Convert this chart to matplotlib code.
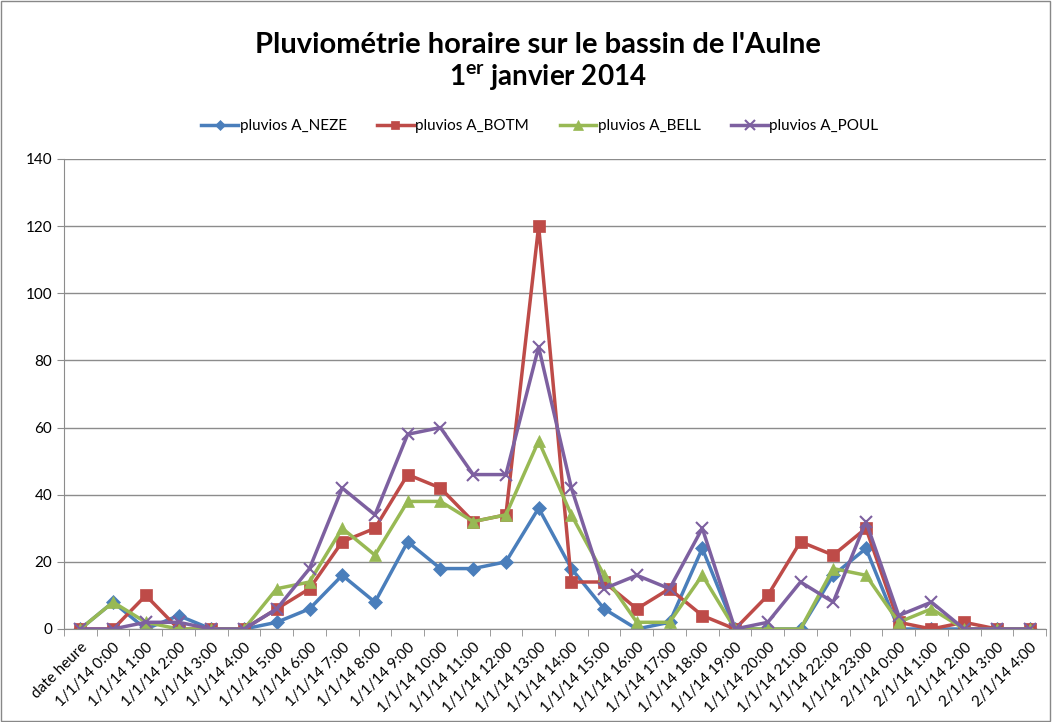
import matplotlib
matplotlib.use("Agg")
import matplotlib.pyplot as plt
from matplotlib.patches import Rectangle

categories = ["date heure"] + [f"1/1/14 {h}:00" for h in range(24)] + [f"2/1/14 {h}:00" for h in range(5)]

neze = [0, 8, 0, 4, 0, 0, 2, 6, 16, 8, 26, 18, 18, 20, 36, 18, 6, 0, 2, 24, 0, 0, 0, 16, 24, 0, 0, 0, 0, 0]
botm = [0, 0, 10, 0, 0, 0, 6, 12, 26, 30, 46, 42, 32, 34, 120, 14, 14, 6, 12, 4, 0, 10, 26, 22, 30, 2, 0, 2, 0, 0]
bell = [0, 8, 2, 0, 0, 0, 12, 14, 30, 22, 38, 38, 32, 34, 56, 34, 16, 2, 2, 16, 0, 0, 0, 18, 16, 2, 6, 0, 0, 0]
poul = [0, 0, 2, 2, 0, 0, 6, 18, 42, 34, 58, 60, 46, 46, 84, 42, 12, 16, 12, 30, 0, 2, 14, 8, 32, 4, 8, 0, 0, 0]

series = [
    ("pluvios A_NEZE", neze, "#4A7EBB", "D", 7),
    ("pluvios A_BOTM", botm, "#BE4B48", "s", 8),
    ("pluvios A_BELL", bell, "#98B954", "^", 9),
    ("pluvios A_POUL", poul, "#7D60A0", "x", 9),
]

plt.rcParams['font.family'] = ['Lato', 'DejaVu Sans']
plt.rcParams['mathtext.fontset'] = 'custom'
plt.rcParams['mathtext.rm'] = 'Lato:bold'

fig = plt.figure(figsize=(10.52, 7.22), dpi=100)
fig.patches.append(Rectangle((0.0005, 0.001), 0.998, 0.998, transform=fig.transFigure,
                             fill=False, edgecolor="#888888", linewidth=1))
ax = fig.add_axes([64/1052, 1-629/722, (1046-64)/1052, (629-159)/722])

x = list(range(len(categories)))
handles = []
for name, vals, col, mk, ms in series:
    kw = dict(markeredgewidth=1.5) if mk == "x" else dict(markeredgewidth=0.5)
    h, = ax.plot(x, vals, color=col, linewidth=2.5, marker=mk, markersize=ms,
                 markerfacecolor=col, markeredgecolor=col, label=name, **kw)
    handles.append(h)

ax.set_xlim(-0.5, len(categories) - 0.5)
ax.set_ylim(0, 140)
ax.set_yticks(range(0, 141, 20))
ax.yaxis.grid(True, color="#8c8c8c", linewidth=1)
ax.set_axisbelow(True)
ax.set_xticks(x)
ax.set_xticklabels(categories, rotation=45, ha="right", rotation_mode="anchor", fontsize=11)
ax.set_xticks([i - 0.5 for i in range(len(categories) + 1)], minor=True)
ax.tick_params(axis="x", which="major", length=0, pad=8)
ax.tick_params(axis="x", which="minor", length=5, color="#8c8c8c")
ax.tick_params(axis="y", length=5, color="#8c8c8c", labelsize=11)
for s in ["top", "right"]:
    ax.spines[s].set_visible(False)
for s in ["left", "bottom"]:
    ax.spines[s].set_color("#8c8c8c")

fig.text(538/1052, 1-45/722, "Pluviométrie horaire sur le bassin de l'Aulne",
         ha="center", va="center", fontsize=21, fontweight="bold")
fig.text(548/1052, 1-78/722, r"1$^{\rm er}$ janvier 2014",
         ha="center", va="center", fontsize=20, fontweight="bold")

leg = fig.legend(handles=handles, loc="center", bbox_to_anchor=(540/1052, 1-126/722), ncol=4,
                 frameon=False, fontsize=11, handlelength=2.4, columnspacing=2.0,
                 handletextpad=0.1, markerscale=0.8)

fig.savefig("out.png", dpi=100)
